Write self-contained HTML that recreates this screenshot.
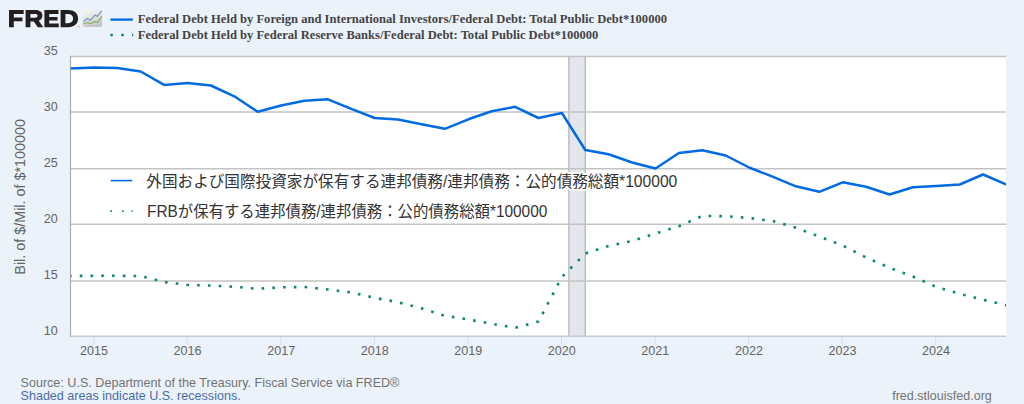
<!DOCTYPE html>
<html><head><meta charset="utf-8"><title>FRED</title>
<style>
html,body{margin:0;padding:0;background:#ebf2fa;}
body{width:1024px;height:404px;overflow:hidden;font-family:"Liberation Sans",sans-serif;}
svg{display:block}
text{font-family:"Liberation Sans",sans-serif;}
.ax{font-size:12.57px;fill:#646464;}
.yt{font-size:14.36px;fill:#646464;}
.ft{font-size:12.57px;}
.lg{font-family:"Liberation Serif",serif;font-weight:bold;font-size:12.57px;fill:#444;}
.logo{font-weight:bold;font-size:22.5px;fill:#231f20;stroke:#231f20;stroke-width:0.9px;}
.jp{font-family:"Liberation Sans","Noto Sans CJK JP",sans-serif;font-size:16px;fill:#333;stroke:#fff;stroke-width:3.4px;stroke-linejoin:round;paint-order:stroke fill;}
</style></head><body>
<svg width="1024" height="404" viewBox="0 0 1024 404">
<rect width="1024" height="404" fill="#ebf2fa"/>
<rect x="70.5" y="56.4" width="935.5" height="280.0" fill="#fff"/>
<rect x="568.8" y="56.4" width="16.6" height="280.0" fill="#e3e7ec"/>
<path d="M568.9 56.4V336.4M585.3 56.4V336.4" stroke="#b6b6b6" stroke-width="1.3" fill="none"/>
<path d="M70.5 56.45H1006.0" stroke="#c3c3c3" stroke-width="1.5" fill="none"/>
<path d="M70.5 112.00H1006.0" stroke="#c3c3c3" stroke-width="1.5" fill="none"/>
<path d="M70.5 168.70H1006.0" stroke="#c3c3c3" stroke-width="1.5" fill="none"/>
<path d="M70.5 224.20H1006.0" stroke="#c3c3c3" stroke-width="1.5" fill="none"/>
<path d="M70.5 280.90H1006.0" stroke="#c3c3c3" stroke-width="1.5" fill="none"/>
<path d="M70.5 336.30H1006.0" stroke="#c4c9d2" stroke-width="1.5" fill="none"/>
<path d="M70.5 55.699999999999996V336.79999999999995" stroke="#adadad" stroke-width="1.2" fill="none"/>
<path d="M93.8 336.8V344.8" stroke="#d3dcee" stroke-width="1" fill="none"/>
<text x="94.1" y="354.7" text-anchor="middle" class="ax">2015</text>
<path d="M187.3 336.8V344.8" stroke="#d3dcee" stroke-width="1" fill="none"/>
<text x="187.6" y="354.7" text-anchor="middle" class="ax">2016</text>
<path d="M280.9 336.8V344.8" stroke="#d3dcee" stroke-width="1" fill="none"/>
<text x="281.2" y="354.7" text-anchor="middle" class="ax">2017</text>
<path d="M374.4 336.8V344.8" stroke="#d3dcee" stroke-width="1" fill="none"/>
<text x="374.7" y="354.7" text-anchor="middle" class="ax">2018</text>
<path d="M468.0 336.8V344.8" stroke="#d3dcee" stroke-width="1" fill="none"/>
<text x="468.3" y="354.7" text-anchor="middle" class="ax">2019</text>
<path d="M561.5 336.8V344.8" stroke="#d3dcee" stroke-width="1" fill="none"/>
<text x="561.8" y="354.7" text-anchor="middle" class="ax">2020</text>
<path d="M655.0 336.8V344.8" stroke="#d3dcee" stroke-width="1" fill="none"/>
<text x="655.3" y="354.7" text-anchor="middle" class="ax">2021</text>
<path d="M748.6 336.8V344.8" stroke="#d3dcee" stroke-width="1" fill="none"/>
<text x="748.9" y="354.7" text-anchor="middle" class="ax">2022</text>
<path d="M842.1 336.8V344.8" stroke="#d3dcee" stroke-width="1" fill="none"/>
<text x="842.4" y="354.7" text-anchor="middle" class="ax">2023</text>
<path d="M935.7 336.8V344.8" stroke="#d3dcee" stroke-width="1" fill="none"/>
<text x="936.0" y="354.7" text-anchor="middle" class="ax">2024</text>
<text x="57.8" y="54.65" text-anchor="end" class="ax">35</text>
<text x="57.8" y="110.67" text-anchor="end" class="ax">30</text>
<text x="57.8" y="166.69" text-anchor="end" class="ax">25</text>
<text x="57.8" y="222.71" text-anchor="end" class="ax">20</text>
<text x="57.8" y="278.73" text-anchor="end" class="ax">15</text>
<text x="57.8" y="334.75" text-anchor="end" class="ax">10</text>
<text transform="translate(25.0,196.85) rotate(-90)" text-anchor="middle" class="yt">Bil. of $/Mil. of $*100000</text>
<defs><clipPath id="pc"><rect x="70.5" y="56.4" width="935.5" height="280.0"/></clipPath></defs>
<polyline points="70.5,68.5 93.9,67.5 117.3,68.0 140.7,71.5 164.1,84.9 187.5,83.0 210.9,85.5 234.3,96.3 257.7,111.8 281.1,105.5 304.5,100.8 327.9,99.3 351.3,108.8 374.7,118.0 398.1,119.5 421.5,124.3 444.9,128.8 468.3,119.3 491.7,111.3 515.1,106.8 538.5,118.0 561.9,113.0 585.3,150.0 608.7,154.3 632.1,162.5 655.5,168.5 678.9,153.0 702.3,150.3 725.7,155.5 749.1,167.5 772.5,176.6 795.9,186.3 819.3,191.8 842.7,182.3 866.1,186.8 889.5,194.5 912.9,187.3 936.3,186.0 959.7,184.5 983.1,174.5 1006.5,184.5" fill="none" stroke="#006be0" stroke-width="2.5" stroke-linejoin="round" clip-path="url(#pc)"/>
<polyline points="70.5,276.0 93.9,275.8 117.3,275.8 140.7,276.0 164.1,282.0 187.5,285.0 210.9,285.5 234.3,286.8 257.7,288.8 281.1,287.3 304.5,287.0 327.9,289.5 351.3,292.5 374.7,297.8 398.1,302.3 421.5,308.3 444.9,315.8 468.3,319.5 491.7,323.8 515.1,327.8 538.5,321.5 561.9,277.0 585.3,253.5 608.7,246.0 632.1,241.0 655.5,233.5 678.9,226.3 702.3,215.9 725.7,216.2 749.1,218.0 772.5,221.0 795.9,227.8 819.3,236.5 842.7,245.5 866.1,257.5 889.5,267.8 912.9,276.5 936.3,286.9 959.7,293.8 983.1,299.8 1006.5,305.3" fill="none" stroke="#0a8577" stroke-width="2.6" stroke-dasharray="2.6 8.16" stroke-dashoffset="1.5" clip-path="url(#pc)" stroke-linejoin="round"/>
<path d="M110.7 180.6H132.2" stroke="#006be0" stroke-width="1.6" fill="none"/>
<path d="M110.3 211.1h1.6M122.05 211.1h1.6M131.6 211.1h1.1" stroke="#0a8577" stroke-width="1.6" fill="none"/>
<text x="146.3" y="186.9" class="jp" textLength="531" lengthAdjust="spacingAndGlyphs">外国および国際投資家が保有する連邦債務/連邦債務：公的債務総額*100000</text>
<text x="147" y="216.9" class="jp" textLength="400.3" lengthAdjust="spacingAndGlyphs">FRBが保有する連邦債務/連邦債務：公的債務総額*100000</text>
<path d="M110.4 19.6H132.8" stroke="#006be0" stroke-width="2.3" fill="none"/>
<path d="M110.3 35H133.3" stroke="#0a8577" stroke-width="2.5" stroke-dasharray="2.5 8.4" fill="none"/>
<text x="137.8" y="23.4" class="lg" textLength="529.2" lengthAdjust="spacingAndGlyphs">Federal Debt Held by Foreign and International Investors/Federal Debt: Total Public Debt*100000</text>
<text x="137.8" y="38.8" class="lg" textLength="460.6" lengthAdjust="spacingAndGlyphs">Federal Debt Held by Federal Reserve Banks/Federal Debt: Total Public Debt*100000</text>
<path fill="#231f20" fill-rule="evenodd" d="M9 10H23.7V13.9H13.8V17.4H22.4V21.2H13.8V27.25H9ZM25.6 10H35.5C39.8 10 42.4 12.2 42.4 15.6C42.4 18.3 40.9 20 38.7 20.8L43.3 27.25H37.8L33.8 21.4H30.4V27.25H25.6ZM30.4 13.9V17.7H35C36.7 17.7 37.6 17 37.6 15.8C37.6 14.5 36.7 13.9 35 13.9ZM44.4 10H58.5V13.9H49.2V16.9H57.5V20.5H49.2V23.4H58.75V27.25H44.4ZM60.6 10H68C74.2 10 78.1 13.4 78.1 18.6C78.1 23.8 74.2 27.25 68 27.25H60.6ZM65.4 14V23.25H68C71.2 23.25 73.1 21.5 73.1 18.6C73.1 15.8 71.2 14 68 14Z"/>
<circle cx="78.9" cy="26.6" r="0.7" fill="none" stroke="#8a8a8a" stroke-width="0.35"/>
<g id="icon"><defs><linearGradient id="ig" x1="0" y1="0" x2="0.35" y2="1"><stop offset="0" stop-color="#f6f6f4"/><stop offset="0.55" stop-color="#e2e2e0"/><stop offset="1" stop-color="#c6c6c6"/></linearGradient></defs><rect x="82.6" y="9.8" width="19.6" height="17.1" rx="2.2" fill="url(#ig)"/><polyline points="83.5,21.5 87.5,18.5 90.25,20.4 95,15.25 97.5,16.25 101.6,10.9" fill="none" stroke="#6b95bb" stroke-width="1.1"/><polyline points="83.5,23.75 87.5,22.5 90.25,23.75 95,21.5 97.75,22.25 101.9,16.25" fill="none" stroke="#7fae5c" stroke-width="1.1"/></g>
<text x="20.5" y="386.6" class="ft" fill="#737373" textLength="378.9" lengthAdjust="spacingAndGlyphs">Source: U.S. Department of the Treasury. Fiscal Service via FRED®</text>
<text x="20.5" y="399.8" class="ft" fill="#4a6da7" textLength="220.2" lengthAdjust="spacingAndGlyphs">Shaded areas indicate U.S. recessions.</text>
<text x="892.2" y="399.8" class="ft" fill="#737373" textLength="99.6" lengthAdjust="spacingAndGlyphs">fred.stlouisfed.org</text>
</svg>
</body></html>
